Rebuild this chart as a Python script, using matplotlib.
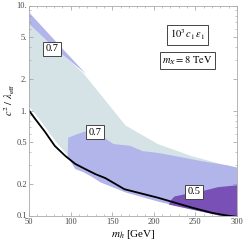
import numpy as np
import matplotlib
matplotlib.use("Agg")
from matplotlib import pyplot as plt
from matplotlib.ticker import FixedLocator, NullFormatter

plt.rcParams['font.family'] = ['Liberation Serif', 'DejaVu Serif']
plt.rcParams['mathtext.fontset'] = 'stix'

# black curve (lower limit)
curve_x = [50, 57, 69, 81, 93.5, 105.6, 117.6, 129.7, 141.8, 164.7, 204.6, 245.6, 269.8, 285.5, 300]
curve_y = [1.0, 0.84, 0.63, 0.46, 0.37, 0.31, 0.277, 0.248, 0.227, 0.178, 0.148, 0.119, 0.106, 0.1007, 0.097]

# light region (0.7)
light_top_x = [50, 91, 115.2, 166, 204.6, 244.4, 289, 300]
light_top_y = [6.7, 3.38, 2.27, 0.72, 0.48, 0.37, 0.296, 0.286]
light_low_x = [50, 57.2, 69.3, 81.4, 93.5, 105.6, 135.7, 166, 204.6, 245.7, 300]
light_low_y = [1.09, 0.935, 0.70, 0.515, 0.40, 0.30, 0.22, 0.17, 0.14, 0.115, 0.09]

# upper blue band
band_x = [50, 83.8, 117.6]
band_top = [8.6, 4.4, 2.27]
band_low = [6.7, 3.75, 2.27]

# lower blue region
blue_top_x = [96.5, 97.1, 109.2, 117.6, 123.7, 135.7, 141.8, 151.4, 172, 186.5, 204.6, 232.4, 256.5, 289, 300]
blue_top_y = [0.37, 0.55, 0.60, 0.63, 0.60, 0.575, 0.54, 0.48, 0.46, 0.41, 0.395, 0.36, 0.33, 0.30, 0.286]
blue_low_x = [95.9, 105.6, 115.2, 126.1, 135.7, 166, 204.6, 245.7, 274.6, 300]
blue_low_y = [0.369, 0.277, 0.259, 0.232, 0.207, 0.166, 0.136, 0.114, 0.102, 0.09]

# dark region (0.5)
dark_top_x = [218, 221.5, 225, 237, 257.7, 277, 300]
dark_top_y = [0.127, 0.1425, 0.152, 0.159, 0.170, 0.186, 0.194]
dark_low_x = [218, 245.7, 274.6, 300]
dark_low_y = [0.127, 0.114, 0.102, 0.09]

c_light = '#d5e2e6'
c_blue = '#b2b5ea'
c_dark = '#7850b6'

fig = plt.figure(figsize=(2.49, 2.42), dpi=100)
ax = fig.add_axes([29/249, 1-215.5/242, 208/249, 210/242])
ax.set_yscale('log')

ax.fill(light_top_x + light_low_x[::-1], light_top_y + light_low_y[::-1], color=c_light, lw=0)
ax.fill_between(band_x, band_low, band_top, color=c_blue, lw=0)
ax.fill(blue_top_x + blue_low_x[::-1], blue_top_y + blue_low_y[::-1], color=c_blue, lw=0)
ax.fill(dark_top_x + dark_low_x[::-1], dark_top_y + dark_low_y[::-1], color=c_dark, lw=0)
ax.plot(curve_x, curve_y, color='black', lw=1.3)

box = dict(boxstyle='square,pad=0.25', fc='white', ec='#444444', lw=0.7)
ax.text(77.8, 3.86, '0.7', fontsize=7.5, ha='center', va='center', bbox=box)
ax.text(128.9, 0.62, '0.7', fontsize=7.5, ha='center', va='center', bbox=box)
ax.text(248.5, 0.168, '0.5', fontsize=7.5, ha='center', va='center', bbox=box)
box2 = dict(boxstyle='square,pad=0.25', fc='white', ec='#444444', lw=0.7)
ax.text(187.3/249, 1-35/242, r'$10^3\,c_1\,\epsilon_1$', transform=fig.transFigure,
        fontsize=7.5, ha='center', va='center', bbox=box2)
ax.text(187.3/249, 1-60.5/242, r'$m_X = 8\ \mathrm{TeV}$', transform=fig.transFigure,
        fontsize=7.5, ha='center', va='center', bbox=box2)

ax.set_xlim(50, 300)
ax.set_ylim(0.1, 10)
ax.set_xticks([50, 100, 150, 200, 250, 300])
ax.set_xticklabels(['50', '100', '150', '200', '250', '300'])
ax.xaxis.set_minor_locator(FixedLocator(np.arange(50, 301, 10)))
ax.set_yticks([0.1, 0.2, 0.5, 1, 2, 5, 10])
ax.set_yticklabels(['0.1', '0.2', '0.5', '1.', '2.', '5.', '10.'])
ax.yaxis.set_minor_locator(FixedLocator([0.3, 0.4, 0.6, 0.7, 0.8, 0.9, 3, 4, 6, 7, 8, 9]))
ax.yaxis.set_minor_formatter(NullFormatter())
ax.tick_params(which='both', direction='in', top=True, right=True, color='#999999',
               labelsize=6, labelcolor='#444444', pad=1.5)
ax.tick_params(which='major', length=3, width=0.5)
ax.tick_params(which='minor', length=1.5, width=0.4)
for s in ax.spines.values():
    s.set_color('#aaaaaa')
    s.set_linewidth(0.6)

ax.set_xlabel(r'$m_h$ [GeV]', fontsize=8, labelpad=2)
ax.set_ylabel(r'$c^2\ /\ \lambda_{\mathrm{eff}}$', fontsize=7.5)
ax.yaxis.set_label_coords(-0.058, 0.55)

fig.savefig('out.png', dpi=100)
